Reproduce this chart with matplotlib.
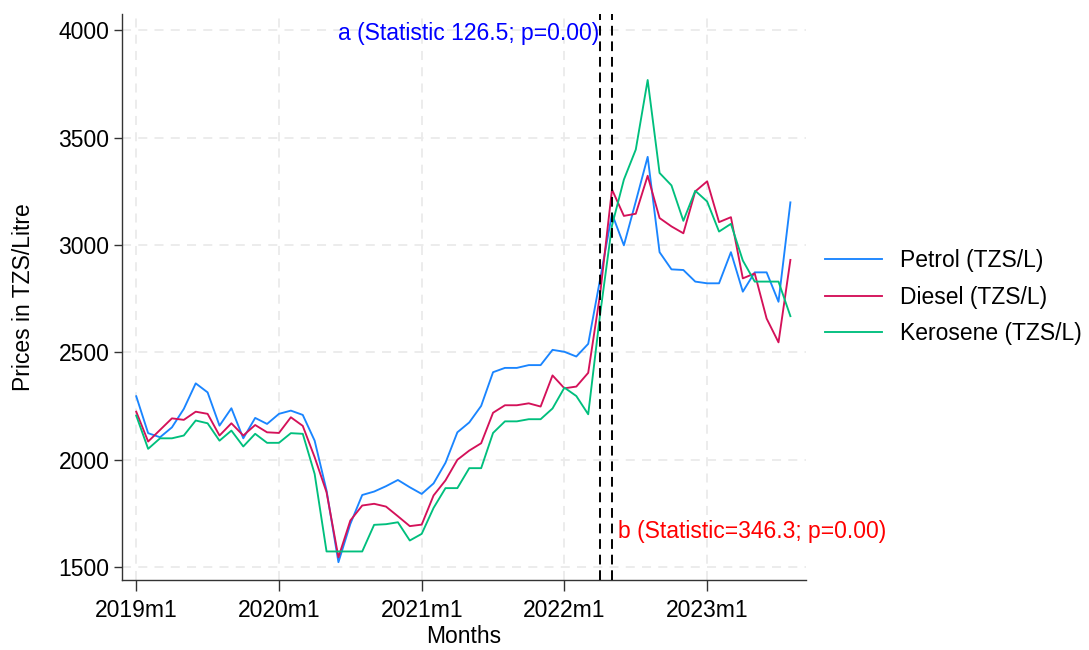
import matplotlib
matplotlib.use('Agg')
import matplotlib.pyplot as plt
import numpy as np

# monthly prices, 2019m1 .. 2023m8
petrol = [2295, 2123, 2104, 2150, 2236, 2355, 2313, 2158, 2239, 2099,
          2194, 2166, 2213, 2228, 2208, 2088, 1856, 1522, 1700, 1835,
          1851, 1876, 1905, 1871, 1840, 1889, 1985, 2127, 2173, 2250,
          2407, 2427, 2427, 2440, 2440, 2511, 2502, 2480, 2539, 2840,
          3145, 2998, 3202, 3410, 2966, 2886, 2883, 2829, 2821, 2821,
          2966, 2782, 2872, 2872, 2735, 3198]
diesel = [2223, 2084, 2138, 2192, 2185, 2223, 2213, 2112, 2169, 2112,
          2161, 2127, 2124, 2197, 2157, 2011, 1848, 1545, 1716, 1786,
          1794, 1781, 1736, 1690, 1697, 1833, 1903, 1999, 2042, 2076,
          2218, 2253, 2253, 2262, 2247, 2392, 2332, 2340, 2404, 2770,
          3258, 3135, 3145, 3322, 3125, 3086, 3054, 3249, 3296, 3106,
          3129, 2844, 2867, 2657, 2546, 2930]
kerosene = [2205, 2050, 2099, 2099, 2112, 2182, 2169, 2088, 2135, 2061,
            2120, 2078, 2078, 2123, 2120, 1933, 1572, 1572, 1572, 1572,
            1696, 1699, 1708, 1623, 1654, 1775, 1867, 1867, 1960, 1960,
            2124, 2178, 2178, 2188, 2188, 2238, 2335, 2296, 2211, 2676,
            3090, 3304, 3444, 3768, 3335, 3277, 3112, 3252, 3202, 3062,
            3098, 2927, 2829, 2829, 2829, 2668]

tick_labels = ['2019m1', '2020m1', '2021m1', '2022m1', '2023m1']
y_ticks = [1500, 2000, 2500, 3000, 3500, 4000]

# structural breaks (month index from 2019m1)
break_a = 39   # 2022m4
break_b = 40   # 2022m5
label_a = 'a (Statistic 126.5; p=0.00)'
label_b = 'b (Statistic=346.3; p=0.00)'

FS = 16.5

plt.rcParams['font.family'] = ['Liberation Sans', 'DejaVu Sans']

months = np.arange(len(petrol))
tick_pos = [12 * i for i in range(len(tick_labels))]

fig = plt.figure(figsize=(10.89, 6.5), dpi=100)
ax = fig.add_axes([0.112, 0.108, 0.628, 0.870])

grid_kw = dict(color='#ebebeb', linestyle=(0, (5, 4)), linewidth=1.3, zorder=0)
for t in y_ticks:
    ax.axhline(t, **grid_kw)
for t in tick_pos:
    ax.axvline(t, **grid_kw)

ax.plot(months, petrol, color='#1A85FF', linewidth=1.35, label='Petrol (TZS/L)', zorder=3)
ax.plot(months, diesel, color='#D41159', linewidth=1.35, label='Diesel (TZS/L)', zorder=3)
ax.plot(months, kerosene, color='#00BF7D', linewidth=1.35, label='Kerosene (TZS/L)', zorder=3)

for b in (break_a, break_b):
    ax.axvline(b, color='black', linestyle=(0, (5, 3)), linewidth=1.4, zorder=4)

ax.text(break_a - 0.1, 3985, label_a, color='blue', fontsize=FS, ha='right', va='center')
ax.text(break_b + 0.5, 1663, label_b, color='red', fontsize=FS, ha='left', va='center')

ax.set_xlim(-1.2, 56.3)
ax.set_ylim(1440, 4074)
ax.set_xticks(tick_pos)
ax.set_xticklabels(tick_labels)
ax.set_yticks(y_ticks)
ax.tick_params(axis='both', labelsize=FS, direction='out', width=1.0, color='#333333')
ax.tick_params(axis='y', length=6, pad=3)
ax.tick_params(axis='x', length=8, pad=6)
for side in ('top', 'right'):
    ax.spines[side].set_visible(False)
for side in ('left', 'bottom'):
    ax.spines[side].set_linewidth(1.0)
    ax.spines[side].set_color('#333333')

ax.set_xlabel('Months', fontsize=FS, labelpad=2)
ax.set_ylabel('Prices in TZS/Litre', fontsize=FS, labelpad=17)

ax.legend(loc='center left', bbox_to_anchor=(0.998, 0.50), frameon=False,
          fontsize=FS, handlelength=2.5, handletextpad=0.75, labelspacing=0.6)

fig.savefig('out.png', dpi=100)
